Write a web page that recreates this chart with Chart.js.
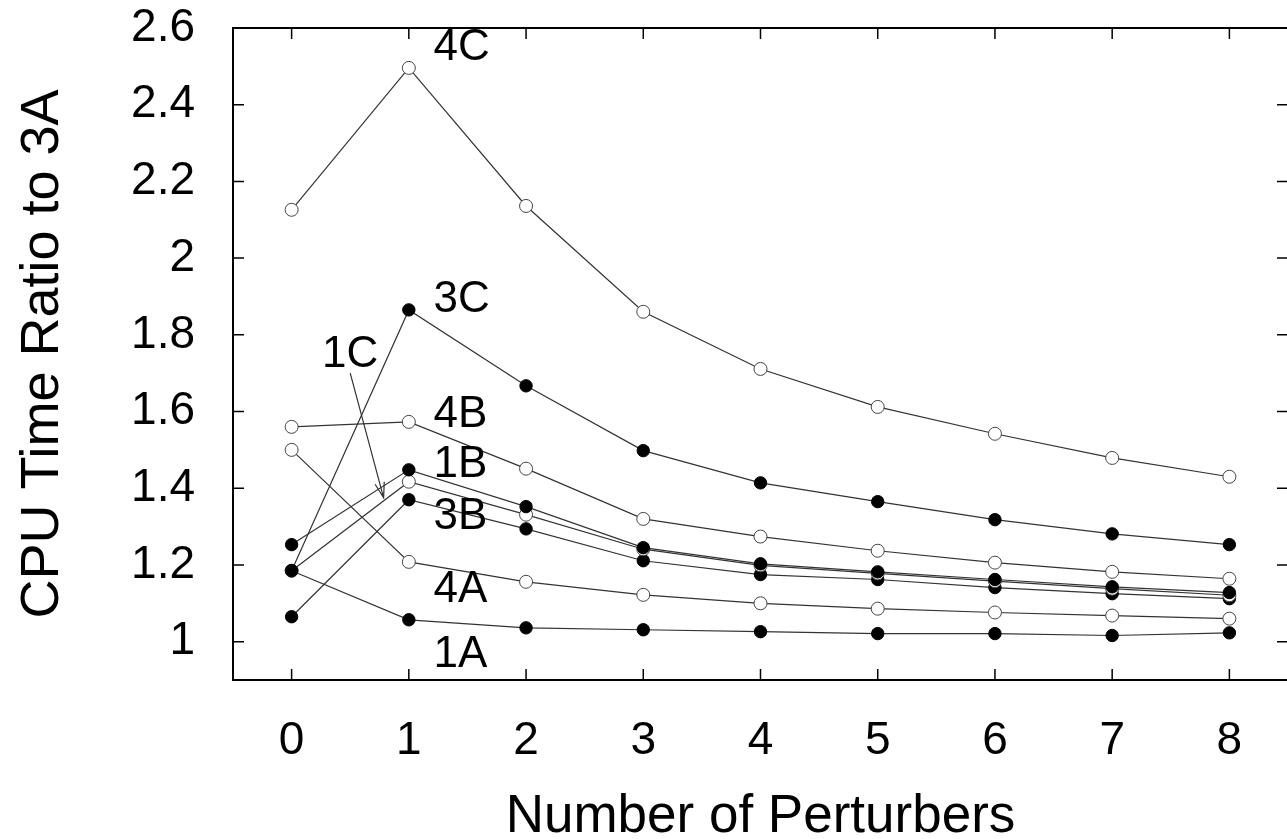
<!DOCTYPE html>
<html>
<head>
<meta charset="utf-8">
<script src="https://cdn.jsdelivr.net/npm/chart.js@4.4.1/dist/chart.umd.min.js"></script>
<style>
  body { margin: 0; background: #fff; overflow: hidden; }
  #wrap { width: 1287px; height: 839px; overflow: hidden; }
  #wrap div { width: 1300px; height: 839px; }
</style>
</head>
<body>
<div id="wrap"><div><canvas id="myChart" width="1300" height="839"></canvas></div></div>
<script>

// number of perturbers
let perturbers = [0, 1, 2, 3, 4, 5, 6, 7, 8];

// CPU time ratio to 3A
let s4C = [2.126, 2.496, 2.136, 1.860, 1.711, 1.612, 1.542, 1.479, 1.430];
let s3C = [1.185, 1.865, 1.667, 1.498, 1.414, 1.365, 1.318, 1.281, 1.253];
let s4B = [1.560, 1.573, 1.451, 1.320, 1.274, 1.237, 1.206, 1.182, 1.164];
let s1B = [1.253, 1.448, 1.352, 1.245, 1.203, 1.182, 1.162, 1.143, 1.128];
let s1C = [1.185, 1.417, 1.331, 1.241, 1.199, 1.178, 1.158, 1.138, 1.121];
let s3B = [1.065, 1.370, 1.294, 1.211, 1.175, 1.162, 1.141, 1.125, 1.112];
let s4A = [1.500, 1.208, 1.156, 1.122, 1.100, 1.086, 1.076, 1.068, 1.060];
let s1A = [1.185, 1.057, 1.036, 1.031, 1.026, 1.021, 1.021, 1.016, 1.023];

let xTicks = [0, 1, 2, 3, 4, 5, 6, 7, 8];
let yTicks = [1, 1.2, 1.4, 1.6, 1.8, 2, 2.2, 2.4, 2.6];

// curve labels (data coords of the text anchor)
let labelNames = ['4C', '3C', '4B', '1B', '3B', '4A', '1A', '1C'];
let labelX = [1.21, 1.21, 1.21, 1.21, 1.21, 1.21, 1.21, 0.26];
let labelY = [2.548, 1.891, 1.592, 1.461, 1.326, 1.136, 0.966, 1.748];
// arrow from the 1C label down to its curve
let arrowFrom = [0.50, 1.700];
let arrowTo = [0.785, 1.375];

function makeSet(name, values, filled) {
  return {
    label: name,
    data: values.map((v, i) => ({ x: perturbers[i], y: v })),
    borderColor: '#333',
    borderWidth: 1.2,
    pointRadius: filled ? 6.2 : 6.5,
    pointBorderWidth: 1,
    pointBorderColor: filled ? '#000' : '#444',
    pointBackgroundColor: filled ? '#000' : '#fff',
    fill: false,
    tension: 0
  }
}

// frame, inward ticks, curve labels and the arrow
var framePlugin = {
  id: 'frame',
  afterDraw(chart) {
    let ctx = chart.ctx;
    let a = chart.chartArea;
    let xs = chart.scales.x, ys = chart.scales.y;
    ctx.save();
    ctx.strokeStyle = '#000';
    ctx.lineWidth = 1.5;
    xTicks.forEach((t) => {
      let px = xs.getPixelForValue(t);
      ctx.beginPath();
      ctx.moveTo(px, a.bottom); ctx.lineTo(px, a.bottom - 11);
      ctx.moveTo(px, a.top); ctx.lineTo(px, a.top + 11);
      ctx.stroke();
    })
    yTicks.forEach((t) => {
      let py = ys.getPixelForValue(t);
      ctx.beginPath();
      ctx.moveTo(a.left, py); ctx.lineTo(a.left + 11, py);
      ctx.moveTo(a.right, py); ctx.lineTo(a.right - 11, py);
      ctx.stroke();
    })
    ctx.lineWidth = 2;
    ctx.strokeRect(a.left, a.top, a.right - a.left, a.bottom - a.top);

    ctx.fillStyle = '#000';
    ctx.font = '44px "Liberation Sans", Arial, sans-serif';
    ctx.textAlign = 'left';
    ctx.textBaseline = 'middle';
    labelNames.forEach((n, i) => {
      ctx.fillText(n, xs.getPixelForValue(labelX[i]), ys.getPixelForValue(labelY[i]));
    })

    let x0 = xs.getPixelForValue(arrowFrom[0]), y0 = ys.getPixelForValue(arrowFrom[1]);
    let x1 = xs.getPixelForValue(arrowTo[0]), y1 = ys.getPixelForValue(arrowTo[1]);
    let ang = Math.atan2(y1 - y0, x1 - x0);
    ctx.strokeStyle = '#333';
    ctx.lineWidth = 1.2;
    ctx.beginPath();
    ctx.moveTo(x0, y0); ctx.lineTo(x1, y1);
    ctx.moveTo(x1 - 16 * Math.cos(ang - 0.3), y1 - 16 * Math.sin(ang - 0.3));
    ctx.lineTo(x1, y1);
    ctx.lineTo(x1 - 16 * Math.cos(ang + 0.3), y1 - 16 * Math.sin(ang + 0.3));
    ctx.stroke();
    ctx.restore();
  }
}

var ctx = document.getElementById('myChart').getContext('2d');
var chartjs = new Chart(ctx, {
  type: 'line',
  data: {
    datasets: [
      makeSet('4C', s4C, false),
      makeSet('3C', s3C, true),
      makeSet('4B', s4B, false),
      makeSet('1B', s1B, true),
      makeSet('1C', s1C, false),
      makeSet('3B', s3B, true),
      makeSet('4A', s4A, false),
      makeSet('1A', s1A, true)
    ]
  },
  options: {
    responsive: false,
    animation: false,
    layout: { padding: { top: 28, right: 12, bottom: 0, left: 0 } },
    plugins: { legend: { display: false }, tooltip: { enabled: false } },
    scales: {
      x: {
        type: 'linear',
        min: -0.5,
        max: 8.5,
        afterBuildTicks: (s) => { s.ticks = xTicks.map((v) => ({ value: v })) },
        afterFit: (s) => { s.height = 159; s.paddingLeft = 0; s.paddingRight = 0 },
        grid: { display: false, drawTicks: false },
        border: { display: false },
        ticks: {
          color: '#000',
          padding: 34,
          maxRotation: 0,
          font: { family: '"Liberation Sans", Arial, sans-serif', size: 46 }
        },
        title: {
          display: true,
          text: 'Number of Perturbers',
          color: '#000',
          padding: { top: 0, bottom: 0 },
          font: { family: '"Liberation Sans", Arial, sans-serif', size: 53, lineHeight: 0.8 }
        }
      },
      y: {
        min: 0.9,
        max: 2.6,
        afterBuildTicks: (s) => { s.ticks = yTicks.map((v) => ({ value: v })) },
        afterFit: (s) => { s.width = 233; s.paddingTop = 0; s.paddingBottom = 0 },
        grid: { display: false, drawTicks: false },
        border: { display: false },
        ticks: {
          color: '#000',
          padding: 38,
          callback: (v) => String(Math.round(v * 10) / 10),
          font: { family: '"Liberation Sans", Arial, sans-serif', size: 46 }
        },
        title: {
          display: true,
          text: 'CPU Time Ratio to 3A',
          color: '#000',
          padding: { top: 16, bottom: 0 },
          font: { family: '"Liberation Sans", Arial, sans-serif', size: 54, lineHeight: 1.0 }
        }
      }
    }
  },
  plugins: [framePlugin]
});

</script>
</body>
</html>
